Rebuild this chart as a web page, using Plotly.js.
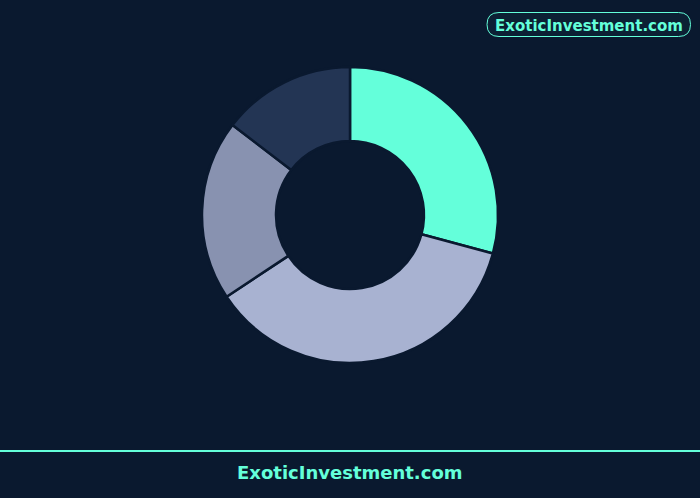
<!DOCTYPE html>
<html>
<head>
<meta charset="utf-8">
<script src="https://cdn.plot.ly/plotly-3.0.1.min.js"></script>
<style>
  html, body { margin: 0; padding: 0; background: #0a192f; }
  #chart { width: 700px; height: 498px; }
</style>
</head>
<body>
<div id="chart"></div>
<script>
const labels = ["Asset A", "Asset B", "Asset C", "Asset D"];
const values = [40, 50, 27, 20];
const colors = ["#64ffda", "#a8b2d1", "#8892b0", "#233554"];

const W = 700, H = 498;
const margin = { l: 0, r: 0, t: 67, b: 135 };
const plotH = H - margin.t - margin.b;

// pixel -> paper helpers
const px = (x) => x / W;
const py = (y) => (H - margin.b - y) / plotH;

function pill(x0, y0, x1, y1) {
  const r = (y1 - y0) / 2;
  return [
    "M", px(x0 + r), py(y0),
    "L", px(x1 - r), py(y0),
    "Q", px(x1), py(y0), px(x1), py(y0 + r),
    "Q", px(x1), py(y1), px(x1 - r), py(y1),
    "L", px(x0 + r), py(y1),
    "Q", px(x0), py(y1), px(x0), py(y0 + r),
    "Q", px(x0), py(y0), px(x0 + r), py(y0),
    "Z",
  ].join(" ");
}

const data = [
  {
    type: "pie",
    labels: labels,
    values: values,
    hole: 0.5,
    sort: false,
    direction: "clockwise",
    rotation: 0,
    textinfo: "none",
    hoverinfo: "label+percent",
    marker: { colors: colors, line: { color: "#0a192f", width: 2.5 } },
  },
];

const layout = {
  width: W,
  height: H,
  margin: margin,
  paper_bgcolor: "#0a192f",
  plot_bgcolor: "#0a192f",
  showlegend: false,
  font: { family: "DejaVu Sans", color: "#64ffda" },
  shapes: [
    {
      type: "path",
      xref: "paper",
      yref: "paper",
      path: pill(487, 12.5, 690.5, 36.5),
      line: { color: "#64ffda", width: 1 },
      fillcolor: "rgba(100,255,218,0.03)",
    },
    {
      type: "line",
      xref: "paper",
      yref: "paper",
      x0: 0,
      x1: 1,
      y0: py(451),
      y1: py(451),
      line: { color: "#64ffda", width: 2 },
    },
  ],
  annotations: [
    {
      text: "<b>ExoticInvestment.com</b>",
      xref: "paper",
      yref: "paper",
      x: px(588.5),
      y: py(25.5),
      xanchor: "center",
      yanchor: "middle",
      showarrow: false,
      font: { size: 15, color: "#64ffda" },
    },
    {
      text: "<b>ExoticInvestment.com</b>",
      xref: "paper",
      yref: "paper",
      x: 0.5,
      y: py(472),
      xanchor: "center",
      yanchor: "middle",
      showarrow: false,
      font: { size: 18, color: "#64ffda" },
    },
  ],
};

Plotly.newPlot("chart", data, layout, { displayModeBar: false, staticPlot: true });
</script>
</body>
</html>
